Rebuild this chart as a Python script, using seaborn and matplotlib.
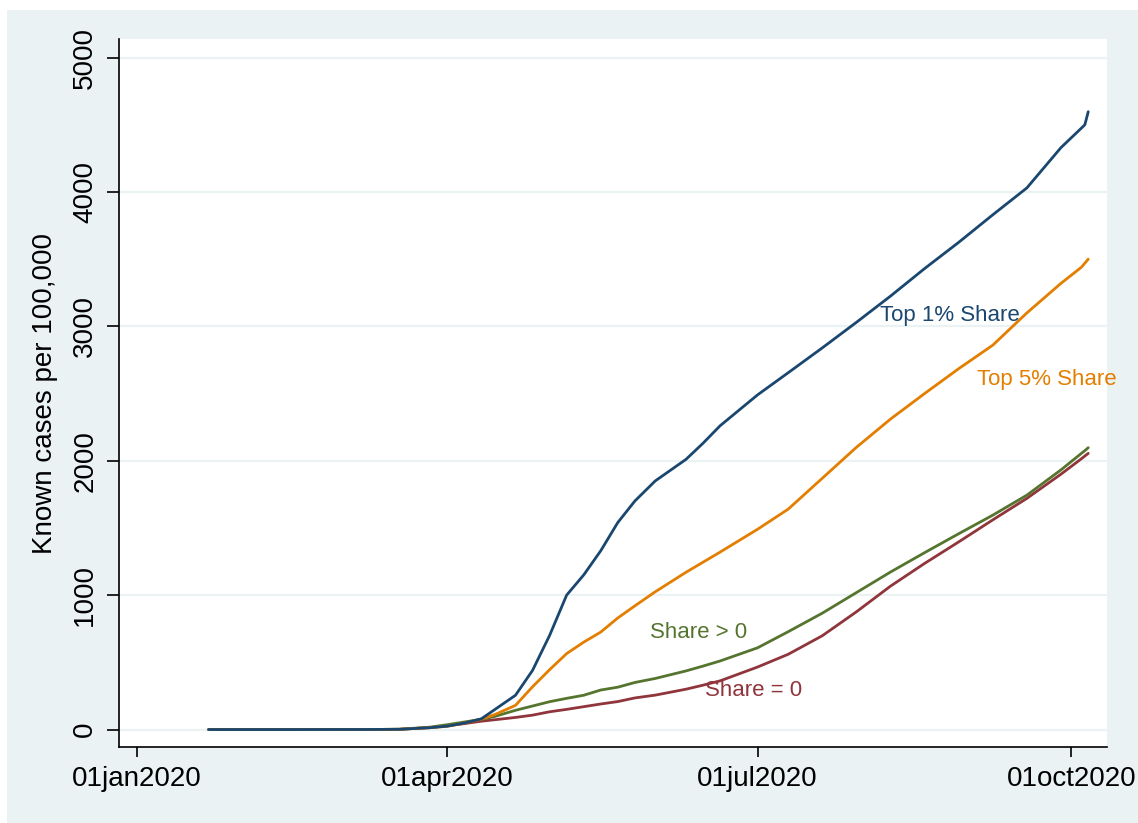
import matplotlib
matplotlib.use("Agg")
import matplotlib.pyplot as plt
import matplotlib.dates as mdates
from matplotlib.patches import Rectangle
import seaborn as sns
import pandas as pd

# ---- data ----
dates = ["2020-01-22", "2020-02-15", "2020-03-10", "2020-03-18", "2020-03-27",
         "2020-04-01", "2020-04-06", "2020-04-11", "2020-04-15", "2020-04-21",
         "2020-04-26", "2020-05-01", "2020-05-06", "2020-05-11", "2020-05-16",
         "2020-05-21", "2020-05-26", "2020-06-01", "2020-06-10", "2020-06-15",
         "2020-06-20", "2020-07-01", "2020-07-10", "2020-07-20", "2020-07-30",
         "2020-08-09", "2020-08-19", "2020-08-29", "2020-09-08", "2020-09-18",
         "2020-09-28", "2020-10-04", "2020-10-05", "2020-10-06"]

top1 = [0, 0, 0.5, 2, 14, 25, 48, 80, 150, 255, 440, 700, 1000, 1150, 1330,
        1540, 1700, 1850, 2010, 2130, 2260, 2490, 2655, 2840, 3030, 3225, 3430,
        3625, 3830, 4030, 4330, 4475, 4500, 4597]
top5 = [0, 0, 0.3, 2, 14, 24, 48, 78, 112, 180, 318, 445, 565, 650, 725,
        830, 920, 1025, 1170, 1245, 1320, 1490, 1640, 1870, 2100, 2310, 2500,
        2685, 2860, 3100, 3320, 3440, 3470, 3500]
share_pos = [0, 0, 0.5, 2, 18, 36, 56, 76, 98, 143, 175, 207, 232, 255, 294,
             315, 350, 380, 436, 472, 510, 608, 728, 866, 1019, 1172, 1316,
             1457, 1595, 1744, 1932, 2055, 2075, 2097]
share_zero = [0, 0, 0.3, 1.5, 14, 29, 44, 62, 73, 90, 107, 132, 150, 170, 190,
              208, 235, 256, 300, 330, 362, 465, 560, 698, 876, 1067, 1236,
              1396, 1560, 1720, 1900, 2015, 2035, 2055]

series_names = ["Top 1% Share", "Top 5% Share", "Share > 0", "Share = 0"]
yticks = [0, 1000, 2000, 3000, 4000, 5000]
xtick_dates = ["2020-01-01", "2020-04-01", "2020-07-01", "2020-10-01"]
xtick_labels = ["01jan2020", "01apr2020", "01jul2020", "01oct2020"]

colors = {"Top 1% Share": "#1a476f", "Top 5% Share": "#e37e00",
          "Share > 0": "#55752f", "Share = 0": "#90353b"}

df = pd.DataFrame({"date": pd.to_datetime(dates),
                   "Top 1% Share": top1, "Top 5% Share": top5,
                   "Share > 0": share_pos, "Share = 0": share_zero})
long = df.melt(id_vars="date", var_name="group", value_name="cases")

sns.set_style("white")
plt.rcParams["font.family"] = ["Liberation Sans", "DejaVu Sans"]
plt.rcParams["text.color"] = "black"
plt.rcParams["axes.labelcolor"] = "black"
plt.rcParams["xtick.color"] = "black"
plt.rcParams["ytick.color"] = "black"

fig = plt.figure(figsize=(11.38, 8.23), dpi=100, facecolor="white")
fig.patches.append(Rectangle((7 / 1138, 0), 1 - 7 / 1138, (823 - 10) / 823,
                             transform=fig.transFigure, facecolor="#eaf2f3",
                             edgecolor="none", zorder=-10))
ax = fig.add_axes([119 / 1138, (823 - 747) / 823, (1107 - 119) / 1138, (747 - 39) / 823])
ax.set_facecolor("white")

# gridlines
for y in yticks:
    ax.axhline(y, color="#eaf2f3", lw=1.6, zorder=0)

order = ["Share = 0", "Share > 0", "Top 5% Share", "Top 1% Share"]
sns.lineplot(data=long, x="date", y="cases", hue="group", hue_order=order,
             palette=colors, lw=2.0, legend=False, ax=ax, estimator=None)

# line labels
t0 = pd.Timestamp("2020-01-01")
labels = [("Top 1% Share", 217.9, 3084), ("Top 5% Share", 246.3, 2608),
          ("Share > 0", 150.4, 725), ("Share = 0", 166.6, 294)]
for name, d, v in labels:
    ax.text(t0 + pd.Timedelta(days=d), v, name, color=colors[name], fontsize=16,
            ha="left", va="center", clip_on=False)

ax.set_xlim(t0 + pd.Timedelta(days=-5.3), t0 + pd.Timedelta(days=284.5))
ax.set_ylim(-130, 5138)

ax.set_yticks(yticks)
ax.set_yticklabels([str(v) for v in yticks], rotation=90, va="center", fontsize=20)
ax.set_xticks(pd.to_datetime(xtick_dates))
ax.set_xticklabels(xtick_labels, fontsize=20)
ax.tick_params(axis="y", length=9, width=1.2, color="black", labelcolor="black", pad=6, left=True)
ax.tick_params(axis="x", length=7.5, width=1.2, color="black", labelcolor="black", pad=6, bottom=True)

ax.set_ylabel("Known cases per 100,000", fontsize=20, labelpad=10, color="black")
ax.set_xlabel("")

for s in ["top", "right"]:
    ax.spines[s].set_visible(False)
for s in ["left", "bottom"]:
    ax.spines[s].set_color("black")
    ax.spines[s].set_linewidth(1.2)

fig.savefig("out.png", dpi=100, facecolor=fig.get_facecolor())
